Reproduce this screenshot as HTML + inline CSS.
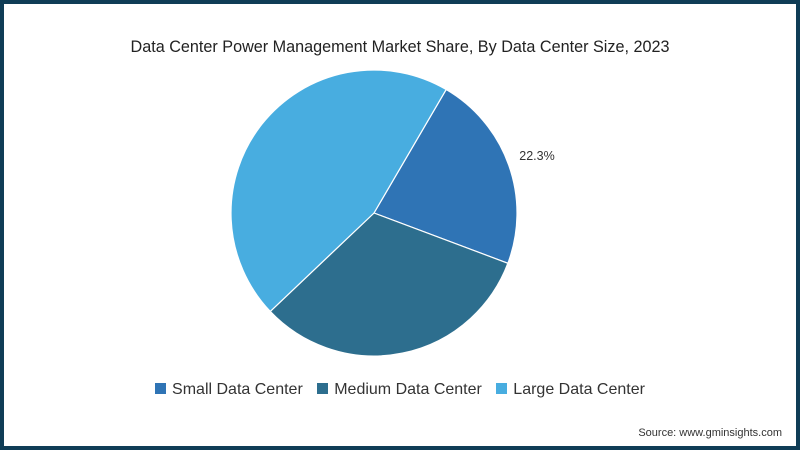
<!DOCTYPE html>
<html><head><meta charset="utf-8"><style>
html,body{margin:0;padding:0;background:#fff;}
#wrap{position:relative;width:800px;height:450px;box-sizing:border-box;border:4px solid #0f3d56;background:#fff;font-family:"Liberation Sans",sans-serif;}
#title{position:absolute;top:34px;left:0;width:792px;text-align:center;font-size:16.2px;color:#222;}
#legend{position:absolute;top:377px;left:0;width:792px;text-align:center;font-size:16px;color:#333;}
.li{display:inline-block;margin:0 5px;}
.sw{display:inline-block;width:11px;height:11px;margin-right:6px;vertical-align:0px;}
#src{position:absolute;right:14px;top:423px;font-size:11px;color:#333;}
svg{position:absolute;left:0;top:0;}
</style></head><body>
<div id="wrap">
<div id="title">Data Center Power Management Market Share, By Data Center Size, 2023</div>
<svg id="pie" width="792" height="442"></svg>
<div id="legend">
<span class="li"><span class="sw" style="background:#2f74b5"></span>Small Data Center</span>
<span class="li"><span class="sw" style="background:#2d6e8e"></span>Medium Data Center</span>
<span class="li"><span class="sw" style="background:#48ade0"></span>Large Data Center</span>
</div>
<div id="src">Source: www.gminsights.com</div>
</div>
<script>
const categories=["Small Data Center","Medium Data Center","Large Data Center"];
const values=[22.3,32.2,45.5];
const labels=["22.3%","",""];
const colors=["#2f74b5","#2d6e8e","#48ade0"];
const svg=document.getElementById('pie');
const NS="http://www.w3.org/2000/svg";
const cx=370,cy=209,r=143,start=30.3;
const total=values.reduce((a,b)=>a+b,0);
function pt(deg,rad){const a=deg*Math.PI/180;return [cx+rad*Math.sin(a),cy-rad*Math.cos(a)];}
let ang=start;
values.forEach((v,i)=>{
  const sweep=v/total*360;
  const p0=pt(ang,r),p1=pt(ang+sweep,r);
  const path=document.createElementNS(NS,'path');
  path.setAttribute('d',`M${cx},${cy}L${p0[0]},${p0[1]}A${r},${r} 0 ${sweep>180?1:0} 1 ${p1[0]},${p1[1]}Z`);
  path.setAttribute('fill',colors[i]);
  path.setAttribute('stroke','#fff');
  path.setAttribute('stroke-width','1.2');
  
  
  svg.appendChild(path);
  if(labels[i]){
    const lp=pt(ang+sweep*0.5,r+30);
    const t=document.createElementNS(NS,'text');
    t.setAttribute('x',lp[0]);t.setAttribute('y',lp[1]+5);
    t.setAttribute('font-size','12.5');t.setAttribute('fill','#333');
    t.setAttribute('font-family','Liberation Sans, sans-serif');
    t.setAttribute('text-anchor','middle');
    
    
    t.textContent=labels[i];svg.appendChild(t);
  }
  ang+=sweep;
});
</script>
</body></html>
